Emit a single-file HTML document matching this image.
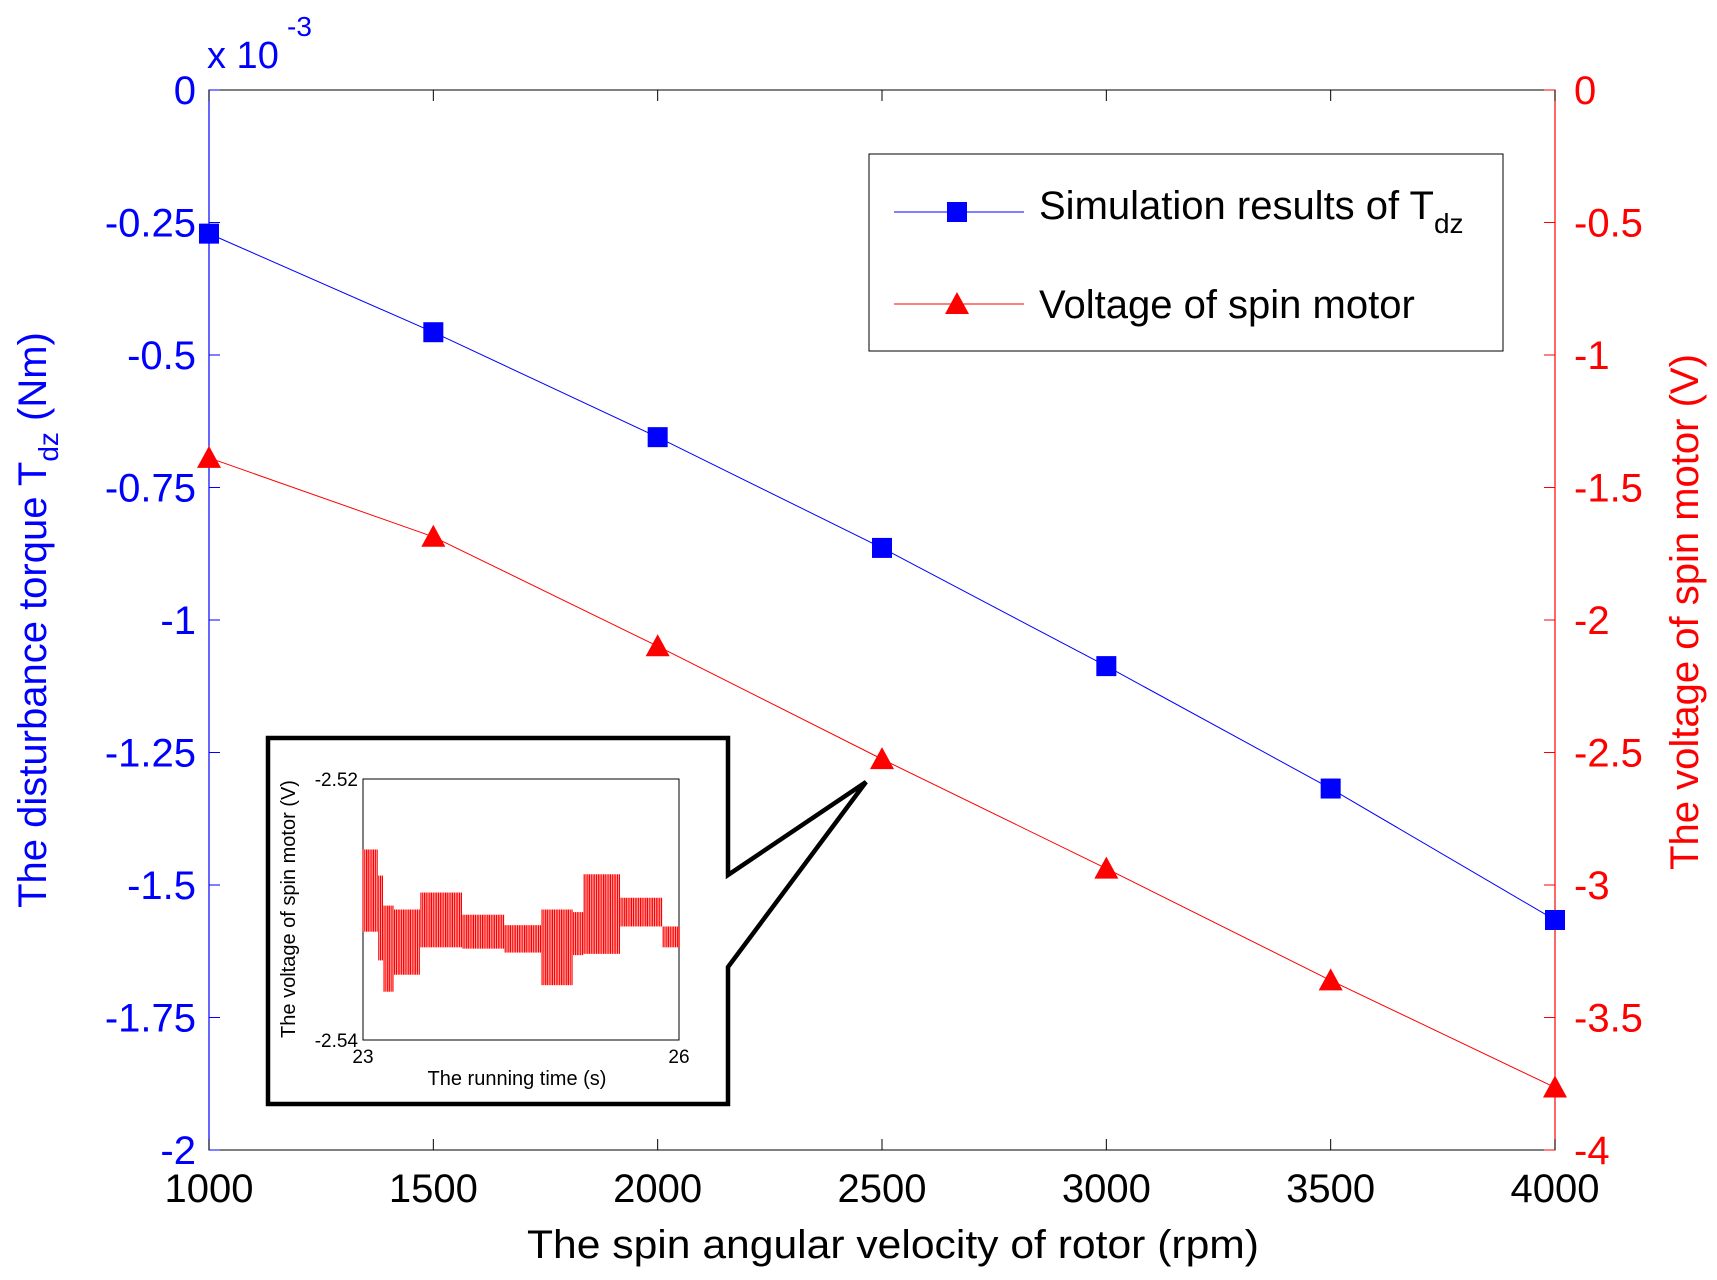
<!DOCTYPE html>
<html><head><meta charset="utf-8"><style>
html,body{margin:0;padding:0;background:#fff}
svg{display:block;font-family:"Liberation Sans",Arial,sans-serif}
</style></head><body>
<svg id="chart" width="1717" height="1280" viewBox="0 0 1717 1280">
<rect x="0" y="0" width="1717" height="1280" fill="#fff"/>
<g id="main"></g>
<g id="inset"></g>
</svg>
<script>
const categories=[1000,1500,2000,2500,3000,3500,4000];
const torqueValues=[-0.271,-0.457,-0.655,-0.864,-1.087,-1.318,-1.566];
const voltageValues=[-1.388,-1.686,-2.099,-2.525,-2.938,-3.36,-3.764];
const xTicks=[1000,1500,2000,2500,3000,3500,4000];
const leftTicks=[0,-0.25,-0.5,-0.75,-1,-1.25,-1.5,-1.75,-2];
const leftTickLabels=["0","-0.25","-0.5","-0.75","-1","-1.25","-1.5","-1.75","-2"];
const rightTicks=[0,-0.5,-1,-1.5,-2,-2.5,-3,-3.5,-4];
const rightTickLabels=["0","-0.5","-1","-1.5","-2","-2.5","-3","-3.5","-4"];
const insetHi=[-2.5254,-2.5254,-2.5254,-2.5274,-2.5297,-2.5297,-2.5300,-2.5300,-2.5300,-2.5300,-2.5300,-2.5287,-2.5287,-2.5287,-2.5287,-2.5287,-2.5287,-2.5287,-2.5287,-2.5304,-2.5304,-2.5304,-2.5304,-2.5304,-2.5304,-2.5304,-2.5304,-2.5312,-2.5312,-2.5312,-2.5312,-2.5312,-2.5312,-2.5312,-2.5300,-2.5300,-2.5300,-2.5300,-2.5300,-2.5300,-2.5302,-2.5302,-2.5273,-2.5273,-2.5273,-2.5273,-2.5273,-2.5273,-2.5273,-2.5291,-2.5291,-2.5291,-2.5291,-2.5291,-2.5291,-2.5291,-2.5291,-2.5313,-2.5313,-2.5313,-2.5313];
const insetLo=[-2.5317,-2.5317,-2.5317,-2.5339,-2.5363,-2.5363,-2.5350,-2.5350,-2.5350,-2.5350,-2.5350,-2.5329,-2.5329,-2.5329,-2.5329,-2.5329,-2.5329,-2.5329,-2.5329,-2.5330,-2.5330,-2.5330,-2.5330,-2.5330,-2.5330,-2.5330,-2.5330,-2.5333,-2.5333,-2.5333,-2.5333,-2.5333,-2.5333,-2.5333,-2.5358,-2.5358,-2.5358,-2.5358,-2.5358,-2.5358,-2.5335,-2.5335,-2.5334,-2.5334,-2.5334,-2.5334,-2.5334,-2.5334,-2.5334,-2.5313,-2.5313,-2.5313,-2.5313,-2.5313,-2.5313,-2.5313,-2.5313,-2.5329,-2.5329,-2.5329,-2.5329];

const NS="http://www.w3.org/2000/svg";
function mk(tag,attrs,parent,text){const e=document.createElementNS(NS,tag);for(const k in attrs)e.setAttribute(k,attrs[k]);if(text!==undefined)e.textContent=text;parent.appendChild(e);return e;}
const L=209,R=1555,T=90,B=1150;
const xs=v=>L+(v-1000)/3000*(R-L);
const yl=v=>T+(-v)/2*(B-T);
const yr=v=>T+(-v)/4*(B-T);
const g=document.getElementById('main');

let frame=mk('rect',{x:L,y:T,width:R-L,height:B-T,fill:'none',stroke:'#000','stroke-width':1},g);


mk('line',{x1:L,y1:T,x2:L,y2:B,stroke:'#00f','stroke-width':1.2},g);
mk('line',{x1:R,y1:T,x2:R,y2:B,stroke:'#f00','stroke-width':1.2},g);

xTicks.forEach(v=>{
  const x=xs(v);
  mk('line',{x1:x,y1:B,x2:x,y2:B-11,stroke:'#000'},g);
  mk('line',{x1:x,y1:T,x2:x,y2:T+11,stroke:'#000'},g);
  const t=mk('text',{x:x,y:1202,'font-size':40,'text-anchor':'middle',fill:'#000'},g,String(v));
  
  
});
leftTicks.forEach((v,i)=>{
  const y=yl(v);
  mk('line',{x1:L,y1:y,x2:L+11,y2:y,stroke:'#00f'},g);
  const t=mk('text',{x:196,y:y+14,'font-size':40,'text-anchor':'end',fill:'#00f'},g,leftTickLabels[i]);
  
  
});
rightTicks.forEach((v,i)=>{
  const y=yr(v);
  mk('line',{x1:R,y1:y,x2:R-11,y2:y,stroke:'#f00'},g);
  const t=mk('text',{x:1574,y:y+14,'font-size':40,'text-anchor':'start',fill:'#f00'},g,rightTickLabels[i]);
  
  
});
let ex=mk('text',{x:207,y:68,'font-size':38,fill:'#00f'},g,'x 10');


mk('text',{x:287,y:36,'font-size':28,fill:'#00f'},g,'-3');

let xt=mk('text',{x:893,y:1258,'font-size':40,'text-anchor':'middle',fill:'#000',textLength:732,lengthAdjust:'spacingAndGlyphs'},g,'The spin angular velocity of rotor (rpm)');


let lt=mk('text',{transform:'translate(46,620) rotate(-90)','font-size':40,'text-anchor':'middle',fill:'#00f'},g);


lt.innerHTML='The disturbance torque T<tspan font-size="28" dy="12">dz</tspan><tspan dy="-12"> (Nm)</tspan>';
let rt=mk('text',{transform:'translate(1698,612) rotate(-90)','font-size':40,'text-anchor':'middle',fill:'#f00'},g,'The voltage of spin motor (V)');



const bp=categories.map((c,i)=>xs(c)+','+yl(torqueValues[i])).join(' ');
let bl=mk('polyline',{points:bp,fill:'none',stroke:'#00f','stroke-width':1},g);


const rp=categories.map((c,i)=>xs(c)+','+yr(voltageValues[i])).join(' ');
let rl=mk('polyline',{points:rp,fill:'none',stroke:'#f00','stroke-width':1},g);


categories.forEach((c,i)=>{
  const x=xs(c),y=yl(torqueValues[i]);
  const m=mk('rect',{x:x-10,y:y-10,width:20,height:20,fill:'#00f'},g);
  
  
  const y2=yr(voltageValues[i]);
  const tr=mk('polygon',{points:`${x},${y2-12} ${x-12},${y2+10} ${x+12},${y2+10}`,fill:'#f00'},g);
  
  
});

// legend
let lg=mk('g',{},g);


mk('rect',{x:869,y:154,width:634,height:197,fill:'#fff',stroke:'#000','stroke-width':1},lg);
mk('line',{x1:894,y1:212,x2:1024,y2:212,stroke:'#00f'},lg);
mk('rect',{x:947,y:202,width:20,height:20,fill:'#00f'},lg);
let le1=mk('text',{x:1039,y:219,'font-size':40,fill:'#000'},lg);


le1.innerHTML='Simulation results of T<tspan font-size="28" dy="14">dz</tspan>';
mk('line',{x1:894,y1:304,x2:1024,y2:304,stroke:'#f00'},lg);
mk('polygon',{points:'957,292 945,314 969,314',fill:'#f00'},lg);
let le2=mk('text',{x:1039,y:318,'font-size':40,fill:'#000'},lg,'Voltage of spin motor');



// inset
const ig=document.getElementById('inset');


mk('path',{d:'M728,875 L728,738 L268,738 L268,1104 L728,1104 L728,967 L866,782 Z',fill:'#fff',stroke:'#000','stroke-width':4.5,'stroke-linejoin':'miter'},ig);
const IL=363,IR=679,IT=779,IB=1040;
const ix=i=>IL+i/(insetHi.length-1)*(IR-IL);
const iy=v=>IT+(-2.52-v)/0.02*(IB-IT);
mk('rect',{x:IL,y:IT,width:IR-IL,height:IB-IT,fill:'#fff',stroke:'#000','stroke-width':1},ig);
insetHi.forEach((h,i)=>{
  for(let k=0;k<3;k++){
    const x=Math.min(IR,ix(i)+k*1.8);
    const ln=mk('line',{x1:x,y1:iy(h),x2:x,y2:iy(insetLo[i]),stroke:'#f00','stroke-width':1.2},ig);
    
    
  }
});
mk('text',{x:358,y:786,'font-size':19,'text-anchor':'end'},ig,'-2.52');
mk('text',{x:358,y:1047,'font-size':19,'text-anchor':'end'},ig,'-2.54');
mk('text',{x:363,y:1063,'font-size':19,'text-anchor':'middle'},ig,'23');
mk('text',{x:679,y:1063,'font-size':19,'text-anchor':'middle'},ig,'26');
let ixt=mk('text',{x:517,y:1085,'font-size':20,'text-anchor':'middle'},ig,'The running time (s)');


let iyt=mk('text',{transform:'translate(295,909) rotate(-90)','font-size':20,'text-anchor':'middle'},ig,'The voltage of spin motor (V)');


</script>
</body></html>
